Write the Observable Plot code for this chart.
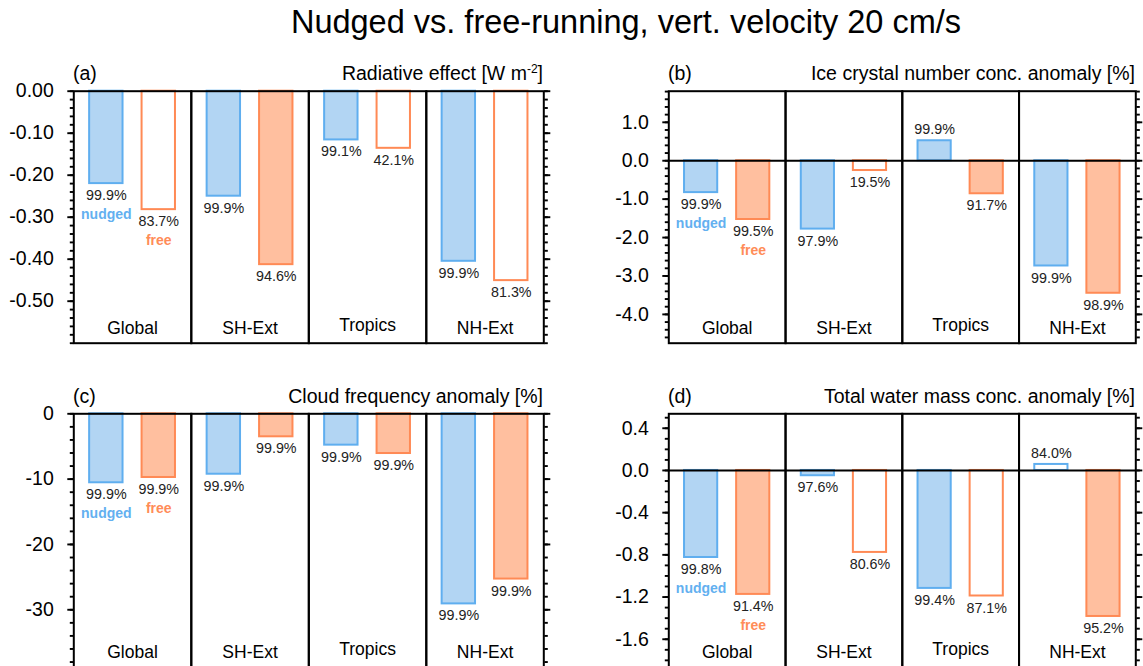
<!DOCTYPE html>
<html>
<head>
<meta charset="utf-8">
<script src="https://cdn.jsdelivr.net/npm/d3@7"></script>
<script src="https://cdn.jsdelivr.net/npm/@observablehq/plot@0.6"></script>
<style>
  html, body { margin: 0; padding: 0; background: #fff; overflow: hidden; }
  #page { position: relative; width: 1143px; height: 666px; overflow: hidden;
          font-family: "Liberation Sans", Arial, Helvetica, sans-serif; color: #000; }
  .main { position: absolute; left: 126px; width: 1000px; top: 5px; text-align: center;
          font-size: 32.5px; line-height: 34px; white-space: nowrap; }
  .ptag { position: absolute; font-size: 19.5px; line-height: 20px; white-space: nowrap; }
  .ptitle { position: absolute; font-size: 19.5px; line-height: 20px; white-space: nowrap; text-align: right; }
  .ptitle sup { font-size: 12px; vertical-align: 7px; line-height: 0; }
  .panel { position: absolute; }
</style>
</head>
<body>
<div id="page">
  <div class="main">Nudged vs. free-running, vert. velocity 20 cm/s</div>
  <div class="ptag" style="left:73px; top:63px;">(a)</div>
  <div class="ptitle" style="right:600px; top:63px;">Radiative effect [W m<sup>-2</sup>]</div>
  <div class="ptag" style="left:668px; top:63px;">(b)</div>
  <div class="ptitle" style="right:8px; top:63px;">Ice crystal number conc. anomaly [%]</div>
  <div class="ptag" style="left:73px; top:386px;">(c)</div>
  <div class="ptitle" style="right:600px; top:386px;">Cloud frequency anomaly [%]</div>
  <div class="ptag" style="left:668px; top:386px;">(d)</div>
  <div class="ptitle" style="right:8px; top:386px;">Total water mass conc. anomaly [%]</div>
  <div class="panel" id="pa" style="left:0px; top:50px;"></div>
  <div class="panel" id="pb" style="left:580px; top:50px;"></div>
  <div class="panel" id="pc" style="left:0px; top:370px;"></div>
  <div class="panel" id="pd" style="left:580px; top:370px;"></div>
</div>
<script>
// ---------- data ----------
const regions = ["Global", "SH-Ext", "Tropics", "NH-Ext"];
const series = ["nudged", "free"];

// (a) Radiative effect [W m-2]
const radNudged = [-0.22, -0.25, -0.116, -0.405];
const radFree = [-0.282, -0.413, -0.136, -0.451];
const radNudgedSig = [99.9, 99.9, 99.1, 99.9];
const radFreeSig = [83.7, 94.6, 42.1, 81.3];
const radTicks = [0, -0.1, -0.2, -0.3, -0.4, -0.5];
const radTickLabels = ["0.00", "-0.10", "-0.20", "-0.30", "-0.40", "-0.50"];

// (b) Ice crystal number conc. anomaly [%]
const iceNudged = [-0.83, -1.78, 0.52, -2.74];
const iceFree = [-1.53, -0.255, -0.86, -3.45];
const iceNudgedSig = [99.9, 97.9, 99.9, 99.9];
const iceFreeSig = [99.5, 19.5, 91.7, 98.9];
const iceTicks = [1, 0, -1, -2, -3, -4];
const iceTickLabels = ["1.0", "0.0", "-1.0", "-2.0", "-3.0", "-4.0"];

// (c) Cloud frequency anomaly [%]
const cfNudged = [-10.56, -9.25, -4.8, -29.1];
const cfFree = [-9.75, -3.52, -6.08, -25.3];
const cfNudgedSig = [99.9, 99.9, 99.9, 99.9];
const cfFreeSig = [99.9, 99.9, 99.9, 99.9];
const cfTicks = [0, -10, -20, -30];
const cfTickLabels = ["0", "-10", "-20", "-30"];

// (d) Total water mass conc. anomaly [%]
const twNudged = [-0.825, -0.05, -1.118, 0.057];
const twFree = [-1.175, -0.777, -1.19, -1.384];
const twNudgedSig = [99.8, 97.6, 99.4, 84.0];
const twFreeSig = [91.4, 80.6, 87.1, 95.2];
const twTicks = [0.4, 0, -0.4, -0.8, -1.2, -1.6];
const twTickLabels = ["0.4", "0.0", "-0.4", "-0.8", "-1.2", "-1.6"];

const sigThreshold = 90;

// ---------- styling ----------
const FONT = "'Liberation Sans', Arial, Helvetica, sans-serif";
const colors = {
  nudged: {stroke: "#5faeef", fill: "#b2d5f3", text: "#63b0f0"},
  free: {stroke: "#ff8a55", fill: "#ffbf9f", text: "#ff8c58"}
};

function rows(nudged, free, nudgedSig, freeSig) {
  return regions.flatMap((r, i) => [
    {region: r, series: "nudged", value: nudged[i], sig: nudgedSig[i]},
    {region: r, series: "free", value: free[i], sig: freeSig[i]}
  ]);
}

function minorRange(lo, hi, step) {
  const n = Math.round((hi - lo) / step);
  const out = [];
  for (let i = 0; i <= n; i++) out.push(+(lo + i * step).toFixed(6));
  return out;
}

function panel({data, domain, ticks, tickLabels, minors, zeroLine, width, height, marginLeft, marginRight, marginTop, marginBottom}) {
  const labelOf = new Map(ticks.map((t, i) => [t, tickLabels[i]]));
  const neg = data.filter(d => d.value < 0);
  const pos = data.filter(d => d.value >= 0);
  const glob = data.filter(d => d.region === "Global");
  const tickStyle = {stroke: "black", strokeWidth: 1.9, label: null};
  return Plot.plot({
    width, height, marginLeft, marginRight, marginTop, marginBottom,
    style: {fontFamily: FONT, background: "transparent", overflow: "visible", color: "black"},
    fx: {domain: regions, padding: 0, axis: null, label: null, round: false},
    x: {domain: series, paddingInner: 0.363, paddingOuter: 0.302, axis: null, round: false},
    y: {domain, label: null},
    marks: [
      Plot.barY(data, {
        fx: "region", x: "series", y1: 0, y2: "value",
        fill: d => d.sig >= sigThreshold ? colors[d.series].fill : "white",
        stroke: d => colors[d.series].stroke, strokeWidth: 2
      }),
      zeroLine ? Plot.ruleY([0], {stroke: "black", strokeWidth: 2}) : null,
      Plot.frame({stroke: "black", strokeWidth: 2}),
      Plot.axisY({anchor: "left", ticks, tickFormat: d => labelOf.get(d), tickSize: 6, tickPadding: 14,
                  fontSize: 19.5, fill: "black", ...tickStyle}),
      Plot.axisY({anchor: "left", ticks: minors, tickSize: 3.5, fill: "none", ...tickStyle}),
      Plot.axisY({anchor: "right", ticks, tickSize: 6, fill: "none", ...tickStyle}),
      Plot.axisY({anchor: "right", ticks: minors, tickSize: 3.5, fill: "none", ...tickStyle}),
      Plot.text(neg, {fx: "region", x: "series", y: "value", text: d => d.sig.toFixed(1) + "%",
                      dy: 12, fontSize: 14.3, fill: "#222"}),
      Plot.text(pos, {fx: "region", x: "series", y: "value", text: d => d.sig.toFixed(1) + "%",
                      dy: -11, fontSize: 14.3, fill: "#222"}),
      Plot.text(glob, {fx: "region", x: "series", y: "value", text: "series", dy: 31,
                       fontSize: 14, fontWeight: "bold", fill: d => colors[d.series].text}),
      Plot.text(regions.filter(r => r !== "Tropics"), {fx: d => d, text: d => d, frameAnchor: "bottom",
                       dy: -9, fontSize: 17.5, fill: "black"}),
      Plot.text(regions.filter(r => r === "Tropics"), {fx: d => d, text: d => d, frameAnchor: "bottom",
                       dy: -12, fontSize: 17.5, fill: "black"})
    ]
  });
}

const leftGeom = {width: 560, marginLeft: 73.3, marginRight: 16.7};
const rightGeom = {width: 563, marginLeft: 88.3, marginRight: 7.7};
const topGeom = {height: 300, marginTop: 40.7, marginBottom: 7.3};
const botGeom = {height: 300, marginTop: 43.3, marginBottom: 3.5};

document.getElementById("pa").append(panel({
  data: rows(radNudged, radFree, radNudgedSig, radFreeSig),
  domain: [-0.6, 0], ticks: radTicks, tickLabels: radTickLabels,
  minors: minorRange(-0.6, 0, 0.02), zeroLine: false, ...leftGeom, ...topGeom
}));
document.getElementById("pb").append(panel({
  data: rows(iceNudged, iceFree, iceNudgedSig, iceFreeSig),
  domain: [-4.75, 1.81], ticks: iceTicks, tickLabels: iceTickLabels,
  minors: minorRange(-4.6, 1.8, 0.2), zeroLine: true, ...rightGeom, ...topGeom
}));
document.getElementById("pc").append(panel({
  data: rows(cfNudged, cfFree, cfNudgedSig, cfFreeSig),
  domain: [-38.76, 0], ticks: cfTicks, tickLabels: cfTickLabels,
  minors: minorRange(-38, 0, 2), zeroLine: false, ...leftGeom, ...botGeom
}));
document.getElementById("pd").append(panel({
  data: rows(twNudged, twFree, twNudgedSig, twFreeSig),
  domain: [-1.863, 0.537], ticks: twTicks, tickLabels: twTickLabels,
  minors: minorRange(-1.8, 0.5, 0.1), zeroLine: true, ...rightGeom, ...botGeom
}));
</script>
</body>
</html>
